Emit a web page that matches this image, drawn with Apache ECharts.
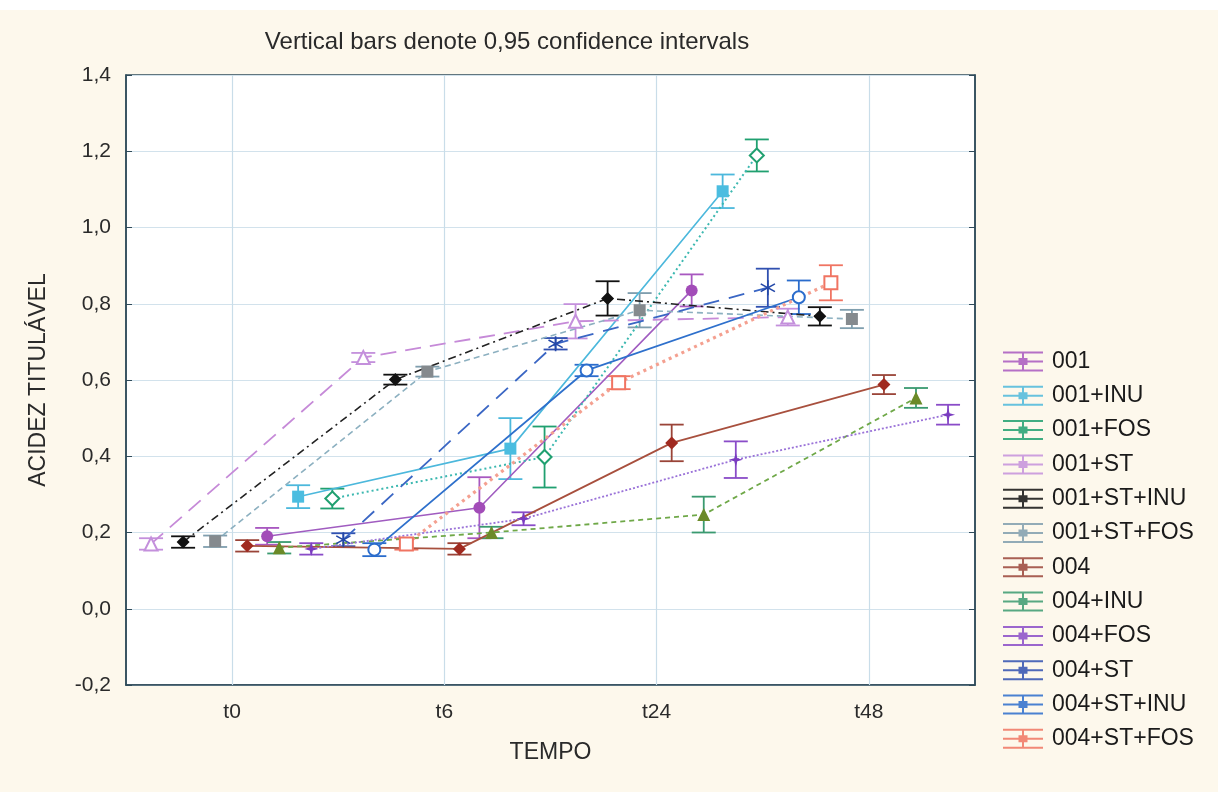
<!DOCTYPE html>
<html>
<head>
<meta charset="utf-8">
<script src="https://cdn.jsdelivr.net/npm/echarts@6/dist/echarts.min.js"></script>
<style>
html,body{margin:0;padding:0;background:#fdf8ec;}
#chart{width:1218px;height:792px;}
</style>
</head>
<body>
<div id="chart"></div>
<script>
// ---- data ----
const categories = ['t0', 't6', 't24', 't48'];
const seriesNames = ['001', '001+INU', '001+FOS', '001+ST', '001+ST+INU', '001+ST+FOS',
                     '004', '004+INU', '004+FOS', '004+ST', '004+ST+INU', '004+ST+FOS'];

const mean_001      = [0.190, 0.265, 0.835, null];
const mean_001INU   = [0.294, 0.420, 1.095, null];
const mean_001FOS   = [0.289, 0.398, 1.189, null];
const mean_001ST    = [0.170, 0.659, 0.754, 0.765];
const mean_001STINU = [0.175, 0.601, 0.814, 0.767];
const mean_001STFOS = [0.177, 0.622, 0.783, 0.760];
const mean_004      = [0.165, 0.157, 0.435, 0.588];
const mean_004INU   = [0.160, 0.200, 0.247, 0.553];
const mean_004FOS   = [0.157, 0.236, 0.391, 0.509];
const mean_004ST    = [0.181, 0.695, 0.842, null];
const mean_004STINU = [0.155, 0.625, 0.817, null];
const mean_004STFOS = [0.170, 0.593, 0.855, null];

const ci_001      = [0.022, 0.080, 0.042, null];
const ci_001INU   = [0.030, 0.080, 0.044, null];
const ci_001FOS   = [0.026, 0.080, 0.042, null];
const ci_001ST    = [0.015, 0.012, 0.045, 0.022];
const ci_001STINU = [0.015, 0.013, 0.045, 0.024];
const ci_001STFOS = [0.015, 0.013, 0.045, 0.024];
const ci_004      = [0.015, 0.015, 0.048, 0.025];
const ci_004INU   = [0.015, 0.015, 0.047, 0.026];
const ci_004FOS   = [0.015, 0.017, 0.048, 0.026];
const ci_004ST    = [0.017, 0.015, 0.050, null];
const ci_004STINU = [0.017, 0.015, 0.044, null];
const ci_004STFOS = [0.015, 0.017, 0.046, null];

// horizontal dodge of each series around its category (category units)
const dodge = [0.165, 0.311, 0.472, -0.382, -0.231, -0.080, 0.071, 0.222, 0.373, 0.524, 0.670, 0.821];

const meansList = [mean_001, mean_001INU, mean_001FOS, mean_001ST, mean_001STINU, mean_001STFOS,
                   mean_004, mean_004INU, mean_004FOS, mean_004ST, mean_004STINU, mean_004STFOS];
const ciList = [ci_001, ci_001INU, ci_001FOS, ci_001ST, ci_001STINU, ci_001STFOS,
                ci_004, ci_004INU, ci_004FOS, ci_004ST, ci_004STINU, ci_004STFOS];

// ---- styles ----
const FONT = 'Liberation Sans, Arial, sans-serif';
const starPath = 'path://M0,-10L2.2,-2.2L10,0L2.2,2.2L0,10L-2.2,2.2L-10,0L-2.2,-2.2Z';
const asteriskPath = 'path://M-1,-10H1V-1.7L8.2,-5.9L9.2,-4.2L2,0L9.2,4.2L8.2,5.9L1,1.7V10H-1V1.7L-8.2,5.9L-9.2,4.2L-2,0L-9.2,-4.2L-8.2,-5.9L-1,-1.7Z';
const styles = [
  {c:'#a24cb8', lc:'#a05cc0', ec:'#a858c0', sym:'circle', size:12, open:false, type:'solid', w:1.6},
  {c:'#4bbde0', lc:'#4cb8dc', ec:'#4cb8dc', sym:'rect', size:12, open:false, type:'solid', w:1.6},
  {c:'#20a070', lc:'#3cb8b0', ec:'#20a070', sym:'diamond', size:14, open:true, type:[2,3], w:2},
  {c:'#c490dc', lc:'#c68ad8', ec:'#c490dc', sym:'triangle', size:13, open:true, type:[16,9], w:1.8},
  {c:'#111111', lc:'#222222', ec:'#111111', sym:'diamond', size:13, open:false, type:[8,4,2,4], w:1.6},
  {c:'#858a8e', lc:'#8cb0c0', ec:'#7f9eae', sym:'rect', size:12, open:false, type:[6,4], w:1.6},
  {c:'#a02a20', lc:'#a8503e', ec:'#9a4438', sym:'diamond', size:13, open:false, type:'solid', w:1.8},
  {c:'#6b8a28', lc:'#6fa848', ec:'#3a9a70', sym:'triangle', size:13, open:false, type:[5,4], w:1.8},
  {c:'#7a3cc0', lc:'#9a72d8', ec:'#8a4cc8', sym:starPath, size:14, open:false, type:[2,2], w:1.8},
  {c:'#2448a8', lc:'#3a66c4', ec:'#3050b0', sym:asteriskPath, size:15, open:false, type:[16,10], w:1.8},
  {c:'#2a6ccc', lc:'#2e70cc', ec:'#2a6ccc', sym:'circle', size:12, open:true, type:'solid', w:1.8},
  {c:'#f07462', lc:'#f4a090', ec:'#f07462', sym:'rect', size:13, open:true, type:[3,4], w:3.2}
];

const fmt = v => v.toFixed(1).replace('.', ',');
const legendIcon = 'path://M0,0H40V2H0Z M0,18H40V20H0Z M0,9H40V11H0Z M19,0H21V20H19Z M15.5,6.5H24.5V13.5H15.5Z';

const series = [];
seriesNames.forEach((name, i) => {
  const s = styles[i];
  const pts = [];
  meansList[i].forEach((m, k) => { if (m != null) pts.push([k + dodge[i], m]); });
  const line = {
    type: 'line', name: name, data: pts, z: 5,
    symbol: s.sym, symbolSize: s.size, showSymbol: true, animation: false,
    lineStyle: {color: s.lc, width: s.w, type: s.type},
    itemStyle: s.open ? {color: '#ffffff', borderColor: s.c, borderWidth: 2, opacity: 1}
                      : {color: s.c, borderColor: s.c, borderWidth: 0, opacity: 1},
    emphasis: {disabled: true}
  };
  if (i === 0) {
    line.markLine = {
      silent: true, symbol: 'none', label: {show: false}, animation: false,
      lineStyle: {color: '#c9dde9', width: 1.2, type: 'solid'},
      data: categories.map((c, k) => ({xAxis: k}))
    };
  }
  series.push(line);
  const errData = [];
  meansList[i].forEach((m, k) => {
    if (m != null) errData.push([k + dodge[i], m - ciList[i][k], m + ciList[i][k]]);
  });
  series.push({
    type: 'custom', name: name, z: 4, animation: false,
    data: errData,
    encode: {x: 0, y: [1, 2]},
    renderItem: function (params, api) {
      const x = api.value(0), lo = api.value(1), hi = api.value(2);
      const p1 = api.coord([x, lo]), p2 = api.coord([x, hi]);
      const w = 12;
      const st = {stroke: s.ec, lineWidth: 1.8, fill: null};
      return {type: 'group', children: [
        {type: 'line', shape: {x1: p1[0], y1: p1[1], x2: p2[0], y2: p2[1]}, style: st},
        {type: 'line', shape: {x1: p1[0] - w, y1: p1[1], x2: p1[0] + w, y2: p1[1]}, style: st},
        {type: 'line', shape: {x1: p2[0] - w, y1: p2[1], x2: p2[0] + w, y2: p2[1]}, style: st}
      ]};
    }
  });
});

const chart = echarts.init(document.getElementById('chart'), null, {renderer: 'canvas'});
chart.setOption({
  backgroundColor: '#fdf8ec',
  animation: false,
  textStyle: {fontFamily: FONT},
  graphic: [
    {type: 'rect', left: 0, top: 0, shape: {width: 1218, height: 10}, style: {fill: '#ffffff'}, silent: true}
  ],
  title: {
    text: 'Vertical bars denote 0,95 confidence intervals',
    left: 502, top: 25, textAlign: 'center',
    textStyle: {fontSize: 24, fontWeight: 'normal', color: '#2a2a2a', fontFamily: FONT}
  },
  grid: {left: 126, right: 243, top: 75, bottom: 107, show: true, backgroundColor: '#ffffff',
         borderColor: '#2f4b5a', borderWidth: 1.5},
  legend: {
    orient: 'vertical', left: 998, top: 345, height: 440,
    itemWidth: 40, itemHeight: 20, itemGap: 11.3,
    textStyle: {fontSize: 23, lineHeight: 20, color: '#1a1a1a', fontFamily: FONT, padding: [0, 0, 0, 4]},
    selectedMode: false,
    data: seriesNames.map((n, i) => ({name: n, icon: legendIcon,
      itemStyle: {color: styles[i].ec, borderWidth: 0, opacity: 0.85}}))
  },
  xAxis: {
    type: 'value', min: -0.5, max: 3.5,
    name: 'TEMPO', nameLocation: 'middle', nameGap: 56,
    nameTextStyle: {fontSize: 23, color: '#2a2a2a'},
    axisLine: {show: true, onZero: false, lineStyle: {color: '#2f4b5a', width: 1.5}},
    axisTick: {show: true, inside: true, length: 5, customValues: [0, 1, 2, 3], lineStyle: {color: '#2f4b5a'}},
    axisLabel: {customValues: [0, 1, 2, 3], formatter: v => categories[Math.round(v)],
                fontSize: 21, color: '#2a2a2a', margin: 17},
    splitLine: {show: false}
  },
  yAxis: [{
    type: 'value', min: -0.2, max: 1.4, interval: 0.2,
    name: 'ACIDEZ TITULÁVEL', nameLocation: 'middle', nameGap: 76, nameRotate: 90,
    nameTextStyle: {fontSize: 23, color: '#2a2a2a'},
    axisLine: {show: true, onZero: false, lineStyle: {color: '#2f4b5a', width: 1.5}},
    axisTick: {show: true, inside: true, length: 6, lineStyle: {color: '#2f4b5a'}},
    axisLabel: {formatter: fmt, fontSize: 21, color: '#2a2a2a', margin: 15},
    splitLine: {show: true, lineStyle: {color: '#d2e2ec', width: 1.2}}
  }, {
    type: 'value', min: -0.2, max: 1.4, interval: 0.2, position: 'right',
    axisLine: {show: true, onZero: false, lineStyle: {color: '#2f4b5a', width: 1.5}},
    axisTick: {show: true, inside: true, length: 6, lineStyle: {color: '#2f4b5a'}},
    axisLabel: {show: false}, splitLine: {show: false}
  }],
  series: series
});
</script>
</body>
</html>
